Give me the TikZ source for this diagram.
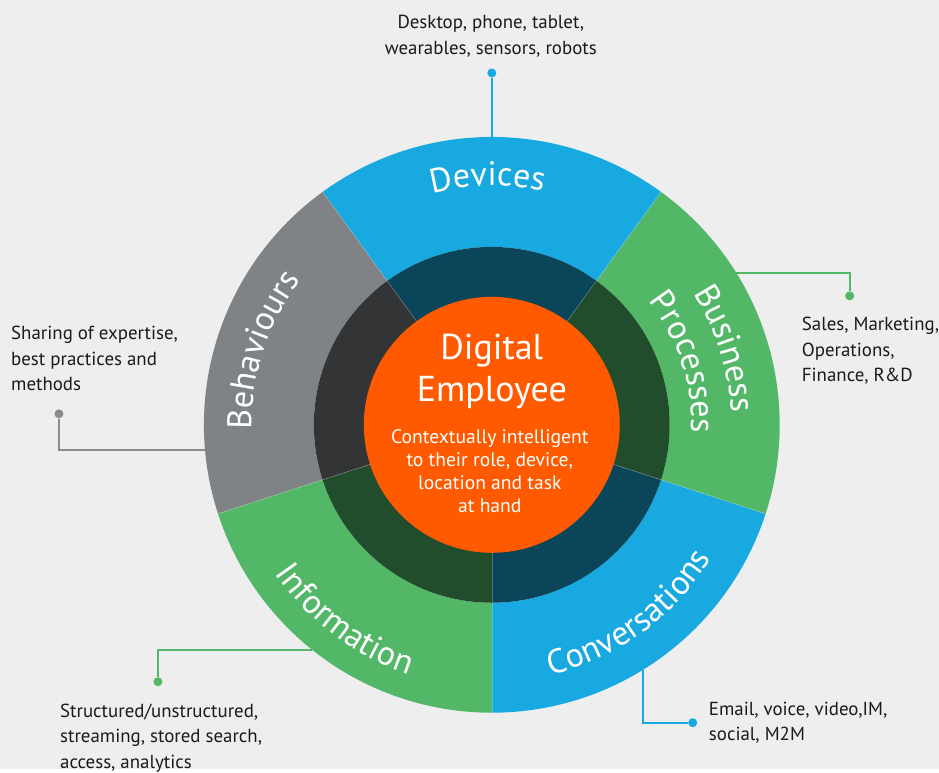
\documentclass[tikz,border=0pt]{standalone}
\usepackage{fontspec}
\setmainfont{PT Sans}
\usepackage{xcolor}
\usepackage{tikz}
\usetikzlibrary{calc}
\usetikzlibrary{decorations.text}

\definecolor{bg}{HTML}{EEEEEE}
\definecolor{segblue}{HTML}{18A9E1}
\definecolor{seggreen}{HTML}{52B868}
\definecolor{seggray}{HTML}{7F8386}
\definecolor{deepblue}{HTML}{0B4559}
\definecolor{deepgreen}{HTML}{224D2D}
\definecolor{deepgray}{HTML}{333436}
\definecolor{hubfill}{HTML}{FF5A00}
\definecolor{leadgray}{HTML}{8A8D90}
\definecolor{notetext}{HTML}{1A1A1A}

\begin{document}
\begin{tikzpicture}[
		x=1pt,
		y=1pt,
		hub/.style={circle, inner sep=0, minimum size=256, fill=hubfill},
		hubtitle/.style={inner sep=0, anchor=north, align=center, text=white,
			font=\fontsize{36}{42}\selectfont},
		hubtext/.style={inner sep=0, anchor=north, align=center, text=white,
			font=\fontsize{19.6}{22.7}\selectfont}
	]
		\tikzset{
			seglabel/.style={
				decorate,
				decoration={text along path, text align=center,
					text={|\color{white}\fontsize{34}{34}\selectfont|#1}}
			},
			leaddot/.style={circle, inner sep=0, minimum size=9, fill=#1},
			lead/.style={line width=1.8, draw=#1},
			note/.style={inner sep=0, anchor=north west, align=left, text=notetext,
				font=\fontsize{18.9}{25.5}\selectfont}
		}

		\fill[bg] (0,0) rectangle (939,769);
		\coordinate (c) at (492,344);

		% outer ring and darker inner ring, 72 degrees each
		\foreach \sa/\light/\deep in {-90/segblue/deepblue, -18/seggreen/deepgreen,
				54/segblue/deepblue, 126/seggray/deepgray, 198/seggreen/deepgreen} {
			\pgfmathsetmacro\sb{\sa+72}
			\fill[\light] ([shift={(\sa:288)}]c) arc[start angle=\sa, end angle=\sb, radius=288]
				-- ([shift={(\sb:178)}]c) arc[start angle=\sb, end angle=\sa, radius=178] -- cycle;
			\fill[\deep] (c) -- ([shift={(\sa:178)}]c) arc[start angle=\sa, end angle=\sb, radius=178] -- cycle;
			\draw[white, opacity=.25, line width=.6] ([shift={(\sa:128)}]c) -- ([shift={(\sa:288)}]c);
		}

		\node[hub] (hub) at (c) {};
		\node[hubtitle] (title) at (492,435) {Digital\\Employee};
		\node[hubtext] (blurb) at (490,339) {Contextually intelligent\\to their role, device,\\location and task\\at hand};

		% ring labels
		\path[seglabel=Devices] ([shift={(127:239)}]c) arc[start angle=127, end angle=55, radius=239];
		\path[seglabel=Business] ([shift={(54:240)}]c) arc[start angle=54, end angle=-18, radius=240];
		\path[seglabel=Processes] ([shift={(54:200)}]c) arc[start angle=54, end angle=-18, radius=200];
		\path[seglabel=Behaviours] ([shift={(198:240)}]c) arc[start angle=198, end angle=126, radius=240];
		\path[seglabel=Information] ([shift={(197:263)}]c) arc[start angle=197, end angle=269, radius=263];
		\path[seglabel=Conversations] ([shift={(270:257)}]c) arc[start angle=270, end angle=342, radius=257];

		% callouts
		\coordinate (devring) at ($(c)+(90:288)$);
		\node[leaddot=segblue] (devdot) at (492,696) {};
		\draw[lead=segblue] (devring) -- (devdot);
		\node[note, anchor=north, align=center] (devnote) at (491,754) {Desktop, phone, tablet,\\wearables, sensors, robots};

		\coordinate (busring) at ($(c)+(31.9:288)$);
		\node[leaddot=seggreen] (busdot) at (850,473) {};
		\draw[lead=seggreen] (busring) -| (busdot);
		\node[note] (busnote) at (802,452) {Sales, Marketing,\\Operations,\\Finance, R\&D};

		\coordinate (behring) at ($(c)+(185:288)$);
		\node[leaddot=leadgray] (behdot) at (59,355) {};
		\draw[lead=leadgray] (behring) -| (behdot);
		\node[note] (behnote) at (11,443) {Sharing of expertise,\\best practices and\\methods};

		\coordinate (infring) at ($(c)+(231.4:288)$);
		\node[leaddot=seggreen] (infdot) at (158,87) {};
		\draw[lead=seggreen] (infring) -| (infdot);
		\node[note] (infnote) at (60,65) {Structured/unstructured,\\streaming, stored search,\\access, analytics};

		\coordinate (conring) at ($(c)+(-58.4:288)$);
		\node[leaddot=segblue] (condot) at (693,46) {};
		\draw[lead=segblue] (conring) |- (condot);
		\node[note] (connote) at (709,67) {Email, voice, video,IM,\\social, M2M};
	\end{tikzpicture}
\end{document}
